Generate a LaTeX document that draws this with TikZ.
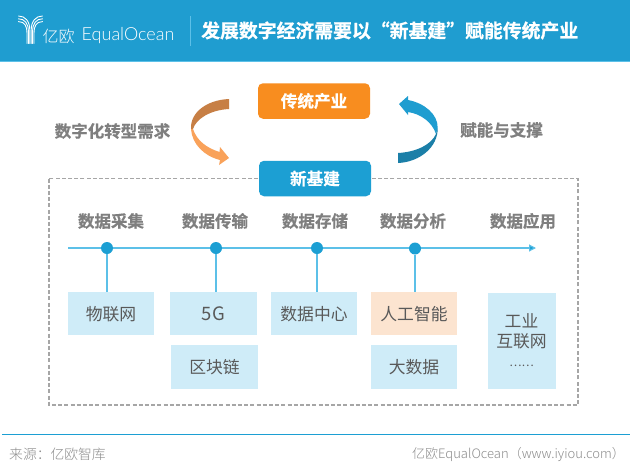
\documentclass[tikz,border=0pt]{standalone}
\usepackage{fontspec}
\setmainfont{Noto Sans CJK SC}
\newfontfamily\cjk{Noto Sans CJK SC}
\newfontfamily\cjkb[FakeBold=0.6]{Noto Sans CJK SC Bold}
\newfontfamily\cjkl{Noto Sans CJK SC Light}
\newfontfamily\lat{Lato Light}
\usetikzlibrary{arrows.meta}
\definecolor{bannerc}{HTML}{1F9DD0}
\definecolor{blinec}{HTML}{5CC0E8}
\definecolor{capsulec}{HTML}{1C9FD3}
\definecolor{orangec}{HTML}{F88D1F}
\definecolor{palec}{HTML}{CFECF8}
\definecolor{peachc}{HTML}{FCE4D0}
\definecolor{headc}{HTML}{7F7F7F}
\definecolor{bodyc}{HTML}{595959}
\definecolor{footc}{HTML}{8C8C8C}
\definecolor{dashc}{HTML}{A6A6A6}
\definecolor{arrowbrown}{HTML}{C77F45}
\definecolor{arrowlight}{HTML}{F9A25A}
\definecolor{arrowdark}{HTML}{1B7FA8}
\tikzset{
  x=1pt,y=-1pt,
  capbox/.style={rounded corners=5pt,minimum width=112pt,minimum height=35.5pt,inner sep=0pt,text=white,font=\fontsize{16.6}{18}\selectfont\cjkb},
  hd/.style={text=headc,inner sep=0pt,font=\fontsize{16.5}{18}\selectfont\cjkb},
  cell/.style={fill=palec,inner sep=0pt,text=bodyc,font=\fontsize{16.8}{19}\selectfont\cjk},
  dotn/.style={circle,fill=capsulec,minimum size=12pt,inner sep=0pt},
  link/.style={draw=blinec,line width=1.1pt},
  logol/.style={draw=white,line width=0.9pt,line cap=round},
}
\begin{document}
\begin{tikzpicture}
\useasboundingbox (0,0) rectangle (640,475);
\fill[white] (0,0) rectangle (640,475);
% banner
\fill[bannerc] (0,0) rectangle (630,60.5);
\fill[blinec] (0,60.5) rectangle (630,62);
% logo
\foreach \d in {0,2.8,5.6}{
  \draw[logol] (18.5,{16+\d}) .. controls ({25},{16+\d}) and ({29.8-\d*0.5},{21+\d}) .. ({29.8-\d*0.5},{30+\d*0.5}) -- ({29.8-\d*0.5},43.5);
  \draw[logol] (42.5,{16+\d}) .. controls ({36},{16+\d}) and ({31.2+\d*0.5},{21+\d}) .. ({31.2+\d*0.5},{30+\d*0.5}) -- ({31.2+\d*0.5},43.5);
}
\node[anchor=west,inner sep=0pt,text=white] (brandcn) at (42.5,36) {\fontsize{16}{18}\selectfont\cjkl 亿欧};
\node[anchor=west,inner sep=0pt,text=white] (branden) at (81.5,36) {\fontsize{18}{20}\selectfont\lat EqualOcean};
\draw[blinec,line width=0.8pt] (190,16) -- (190,45.5);
\node[anchor=west,inner sep=0pt,text=white] (title) at (201,30.5) {\fontsize{18.85}{21}\selectfont\cjkb 发展数字经济需要以“新基建”赋能传统产业};
% dashed frame
\draw[dashc,line width=1.2pt,dash pattern=on 4pt off 2.2pt] (49,178.5) rectangle (578,405);
% capsules
\node[capbox,fill=orangec] (trad) at (314,101) {传统产业};
\node[capbox,fill=capsulec] (xjj) at (315,178.5) {新基建};
% curved arrows
\fill[arrowbrown] (229,99) .. controls (206,100) and (190,113) .. (191,129)
  -- (193,129) .. controls (196,119) and (210,110) .. (229,109) -- cycle;
\fill[arrowlight] (191,129) .. controls (192,144) and (204,156) .. (220,160)
  -- (219,165) -- (229,158) -- (220,147) -- (219.5,152) .. controls (207,148) and (197,141) .. (193,129) -- cycle;
\fill[bannerc] (399,104) -- (408,96) -- (408,100) .. controls (424,103) and (438,114) .. (437.7,128)
  -- (436,134) .. controls (432,122) and (421,114) .. (408,112) -- (408,115) -- cycle;
\fill[arrowdark] (437.7,128) .. controls (438,147) and (420,162) .. (398,163) -- (398,153)
  .. controls (416,152) and (431,145) .. (436,134) -- cycle;
% side labels
\node[hd] (lneed) at (112.5,131) {数字化转型需求};
\node[hd] (rneed) at (501.5,130) {赋能与支撑};
% stage headings
\node[hd] (h1) at (111,221) {数据采集};
\node[hd] (h2) at (215,221) {数据传输};
\node[hd] (h3) at (315,221) {数据存储};
\node[hd] (h4) at (413,221) {数据分析};
\node[hd] (h5) at (523,221) {数据应用};
% cells
\node[cell,minimum width=86pt,minimum height=43.5pt] (c1) at (111,313.7) {物联网};
\node[cell,minimum width=87pt,minimum height=43.5pt] (c2) at (213.5,313.7) {\fontsize{18.5}{19}\selectfont 5G};
\node[cell,minimum width=87pt,minimum height=44pt] (c2b) at (214.5,367) {区块链};
\node[cell,minimum width=86pt,minimum height=43.5pt] (c3) at (314,313.7) {数据中心};
\node[cell,fill=peachc,minimum width=86pt,minimum height=43.5pt] (c4) at (414,313.7) {人工智能};
\node[cell,minimum width=86pt,minimum height=44pt] (c4b) at (414,367) {大数据};
\node[cell,minimum width=68pt,minimum height=96pt,align=center] (c5) at (522,341) {};
\node[inner sep=0pt,text=bodyc,font=\fontsize{16.8}{19}\selectfont\cjk] (c5a) at (521.5,321) {工业};
\node[inner sep=0pt,text=bodyc,font=\fontsize{16.8}{19}\selectfont\cjk] (c5b) at (521.5,341) {互联网};
\node[inner sep=0pt,text=bodyc,font=\fontsize{11.5}{13}\selectfont\cjk] (c5c) at (521.5,366) {……};
% timeline
\coordinate (tl0) at (68,248);
\coordinate (tl1) at (536,248);
\draw[link,-{Triangle[length=7pt,width=7pt,fill=capsulec]}] (tl0) -- (tl1);
\node[dotn] (d1) at (107,248) {};
\node[dotn] (d2) at (216,248) {};
\node[dotn] (d3) at (317,248) {};
\node[dotn] (d4) at (415,248.5) {};
\draw[link] (d1) -- (d1 |- c1.north);
\draw[link] (d2) -- (d2 |- c2.north);
\draw[link] (d3) -- (d3 |- c3.north);
\draw[link] (d4) -- (d4 |- c4.north);
% footer
\draw[capsulec,line width=1pt] (2,434.5) -- (630,434.5);
\node[anchor=west,inner sep=0pt,text=footc] (src) at (9,454) {\fontsize{13.8}{16}\selectfont\cjkl 来源：亿欧智库};
\node[anchor=east,inner sep=0pt,text=footc] (site) at (625,455) {\fontsize{13}{16}\selectfont\cjkl 亿欧EqualOcean（www.iyiou.com）};
\end{tikzpicture}
\end{document}
